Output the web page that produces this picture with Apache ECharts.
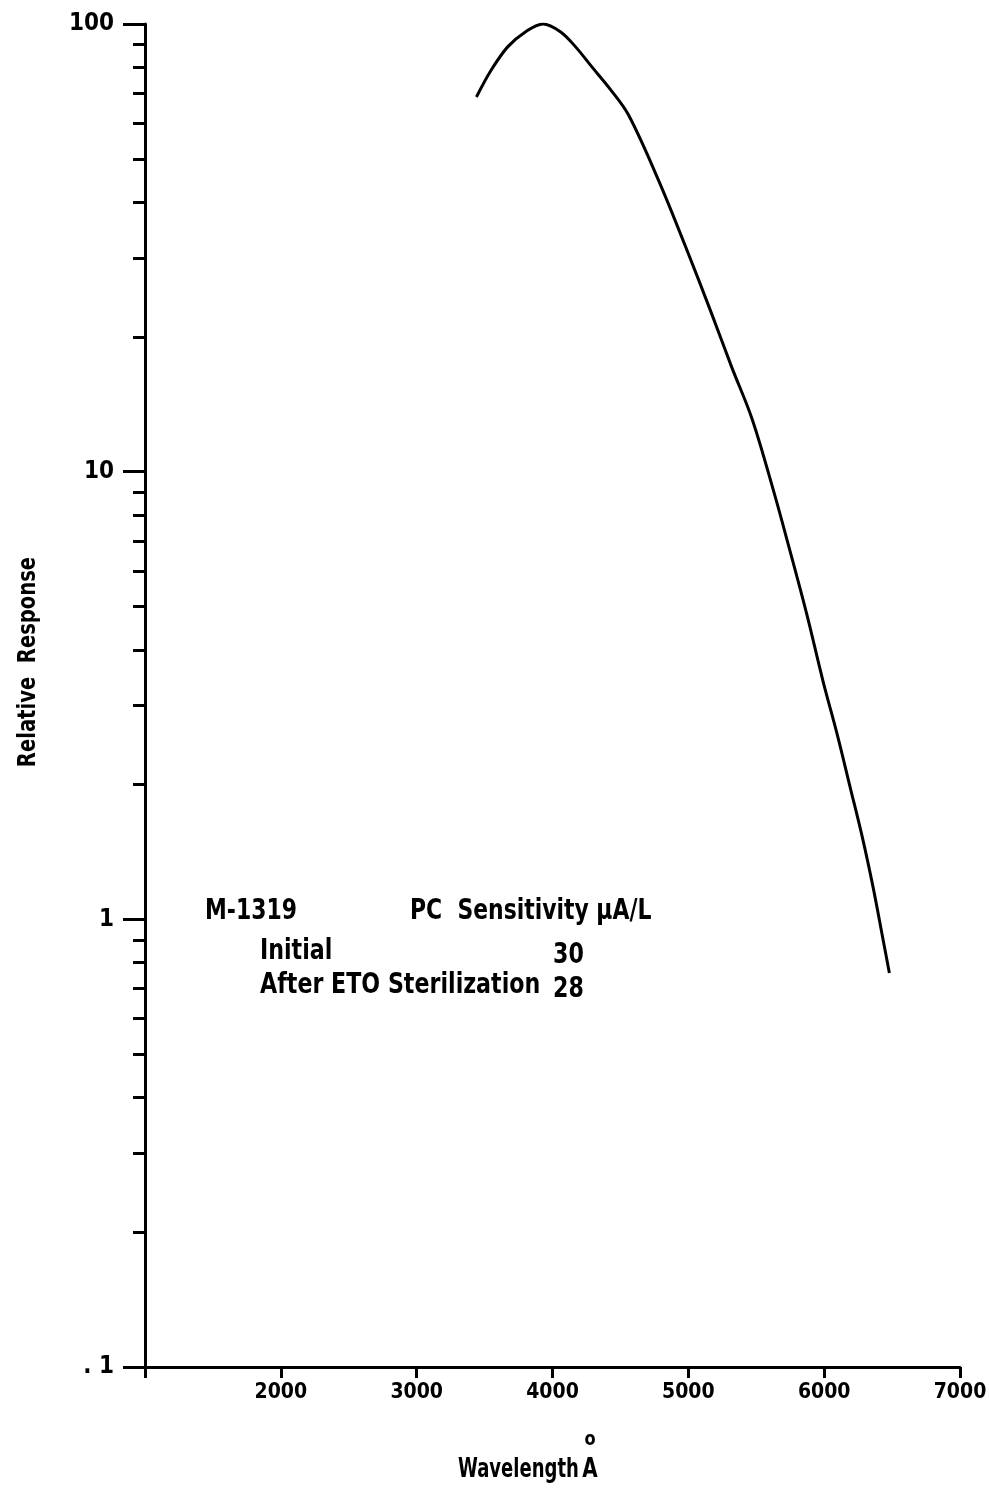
<!DOCTYPE html>
<html lang="en">

<head>
    <meta charset="UTF-8">
    <title>Relative Response vs Wavelength</title>
    <script src="https://cdn.jsdelivr.net/npm/echarts@6/dist/echarts.min.js"></script>
    <style>
        html, body {
            margin: 0;
            padding: 0;
            background: #fff;
        }
        .chart {
            width: 989px;
            height: 1489px;
        }
    </style>
</head>

<body>
    <div class="chart"></div>
</body>

</html>
<script>
    // data
    var wavelength = [3440, 3550, 3670, 3800, 3930, 4060, 4170, 4290, 4430, 4560, 4780, 4980,
        5170, 5320, 5470, 5630, 5740, 5870, 5990, 6100, 6190, 6280, 6360, 6430, 6480];
    var response = [68.7, 79, 88.9, 96, 100, 96, 88.9, 80.2, 71.2, 62.6, 44.8, 31.8,
        22.6, 17.1, 13.1, 9.0, 6.8, 4.83, 3.42, 2.56, 1.98, 1.53, 1.18, 0.913, 0.759];
    var minorTicks = [0.2, 0.3, 0.4, 0.5, 0.6, 0.7, 0.8, 0.9, 2, 3, 4, 5, 6, 7, 8, 9,
        20, 30, 40, 50, 60, 70, 80, 90];
    var xLabels = ['', '2000', '3000', '4000', '5000', '6000', '7000'];
    var yLabels = { '0.1': '. 1', '1': '1', '10': '10', '100': '100' };
    var noteHead = ['M-1319', 'PC  Sensitivity \u00b5A/L'];
    var noteRows = [['Initial', '30'], ['After ETO Sterilization', '28']];

    var narrow = "'DejaVu Sans Condensed', 'Liberation Sans Narrow', sans-serif";
    var myChart = echarts.init(document.querySelector('.chart'));

    var pts = [];
    for (var i = 0; i < wavelength.length; i++) {
        pts.push([wavelength[i], response[i]]);
    }

    // text in the plot, squeezed a bit to look like the condensed original
    function txt(s, x, y, size, sx, align) {
        return {
            type: 'text',
            x: x,
            y: y,
            scaleX: sx,
            style: {
                text: s,
                fill: '#000',
                font: 'bold ' + size + 'px ' + narrow,
                textAlign: align || 'left',
                textVerticalAlign: 'middle'
            }
        };
    }

    var yTitle = txt('Relative  Response', 28, 662, 25, 0.87, 'center');
    yTitle.rotation = Math.PI / 2;

    var option = {
        backgroundColor: '#fff',
        animation: false,
        grid: {
            left: 145,
            right: 29,
            top: 24,
            bottom: 122,
            containLabel: false,
            outerBoundsMode: 'none'
        },
        xAxis: {
            type: 'value',
            min: 1000,
            max: 7000,
            interval: 1000,
            splitLine: { show: false },
            axisLine: { onZero: false, lineStyle: { color: '#000', width: 3 } },
            axisTick: { length: 11, lineStyle: { color: '#000', width: 3 } },
            axisLabel: {
                margin: 15,
                color: '#000',
                fontFamily: narrow,
                fontWeight: 'bold',
                fontSize: 21,
                formatter: function (v) {
                    return xLabels[Math.round((v - 1000) / 1000)];
                }
            }
        },
        yAxis: [{
            type: 'log',
            logBase: 10,
            min: 0.1,
            max: 100,
            splitLine: { show: false },
            axisLine: { lineStyle: { color: '#000', width: 3 } },
            axisTick: { length: 22, lineStyle: { color: '#000', width: 3 } },
            axisLabel: {
                margin: 31,
                color: '#000',
                fontFamily: narrow,
                fontWeight: 'bold',
                fontSize: 24,
                formatter: function (v) {
                    var k = v < 0.5 ? '0.1' : String(Math.round(v));
                    return yLabels[k];
                }
            }
        }, {
            // minor ticks only
            type: 'value',
            min: -1,
            max: 2,
            position: 'left',
            splitLine: { show: false },
            axisLine: { show: false },
            axisLabel: { show: false },
            axisTick: {
                length: 12,
                customValues: minorTicks.map(function (v) { return Math.log10(v); }),
                lineStyle: { color: '#000', width: 3 }
            }
        }],
        graphic: [
            yTitle,
            txt('Wavelength', 458, 1470, 26, 0.77),
            txt('A', 590, 1470, 26, 0.85, 'center'),
            txt('o', 590, 1440, 20, 0.9, 'center'),
            txt(noteHead[0], 205, 912, 28, 0.87),
            txt(noteHead[1], 410, 912, 28, 0.87),
            txt(noteRows[0][0], 260, 952, 28, 0.88),
            txt(noteRows[0][1], 553, 956, 28, 0.88),
            txt(noteRows[1][0], 260, 986, 28, 0.88),
            txt(noteRows[1][1], 553, 990, 28, 0.88)
        ],
        series: [{
            type: 'line',
            data: pts,
            smooth: 0.35,
            symbol: 'none',
            lineStyle: { color: '#000', width: 3 }
        }]
    };

    myChart.setOption(option);
</script>
